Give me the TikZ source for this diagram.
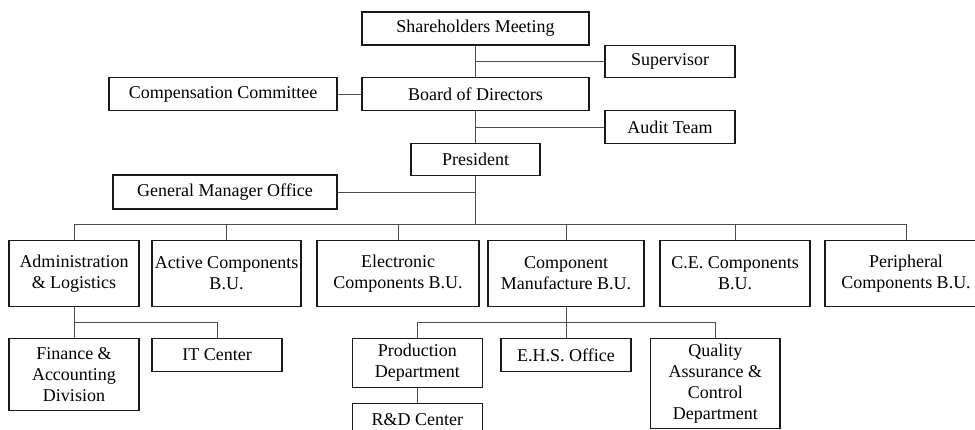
\documentclass[tikz,border=0pt]{standalone}
\usepackage{fontspec}
\setmainfont{Liberation Serif}
\begin{document}
\begin{tikzpicture}[x=1pt,y=-1pt,
  bx/.style={draw=black!90, line width=1.4pt, inner sep=0pt, align=center,
    font=\fontsize{18}{21}\selectfont, fill=white},
  ln/.style={draw=black!70, line width=0.9pt}]
\path[use as bounding box, fill=white] (0,0) rectangle (975,430);
\clip (0,0) rectangle (975,430);
% top part
\node[bx, minimum width=227, minimum height=33] (sm) at (475.5,28.5) {Shareholders Meeting};
\node[bx, minimum width=130, minimum height=32] (sup) at (670,61.5) {Supervisor};
\node[bx, minimum width=228, minimum height=32.6] (cc) at (223,94) {Compensation Committee};
\node[bx, minimum width=227, minimum height=32.6] (bod) at (475.5,94) {Board of Directors};
\node[bx, minimum width=130, minimum height=32.6] (aud) at (670,127) {Audit Team};
\node[bx, minimum width=129.3, minimum height=32.4] (pres) at (475.5,159.5) {President};
\node[bx, minimum width=224, minimum height=34] (gmo) at (225,192) {General Manager Office};
% second row
\node[bx, minimum width=130, minimum height=65.6] (adm) at (74,273.5) {Administration\\\& Logistics};
\node[bx, minimum width=149, minimum height=65.6] (act) at (226.5,273.5) {Active Components\\B.U.};
\node[bx, minimum width=162, minimum height=65.6] (ele) at (398,273.5) {Electronic\\Components B.U.};
\node[bx, minimum width=156, minimum height=65.6] (cm) at (566,273.5) {Component\\Manufacture B.U.};
\node[bx, minimum width=150, minimum height=65.6] (ce) at (735,273.5) {C.E. Components\\B.U.};
\node[bx, minimum width=162, minimum height=65.6] (per) at (906,273.5) {Peripheral\\Components B.U.};
% third row
\node[bx, minimum width=130, minimum height=72] (fin) at (74,374.3) {Finance \&\\Accounting\\Division};
\node[bx, minimum width=130, minimum height=33] (it) at (217,354.8) {IT Center};
\node[bx, minimum width=130, minimum height=49] (prod) at (417.3,362.8) {Production\\Department};
\node[bx, minimum width=130, minimum height=33] (rd) at (417.3,419.8) {R\&D Center};
\node[bx, minimum width=130, minimum height=33] (ehs) at (566,354.8) {E.H.S. Office};
\node[bx, minimum width=129.3, minimum height=90.4] (qa) at (715.3,383.5) {Quality\\Assurance \&\\Control\\Department};
% connectors
\coordinate (bus) at (475.5,224.3);
\coordinate (sub) at (74,322.3);
\draw[ln] (sm.south) -- (bod.north);
\draw[ln] (bod.south) -- (pres.north);
\draw[ln] (pres.south) -- (pres.south |- bus);
\draw[ln] (sm.south |- sup.west) -- (sup.west);
\draw[ln] (cc.east) -- (bod.west);
\draw[ln] (bod.south |- aud.west) -- (aud.west);
\draw[ln] (gmo.east) -- (gmo.east -| pres.south);
\draw[ln] (adm.north |- bus) -- (per.north |- bus);
\foreach \n in {adm,act,ele,cm,ce,per} \draw[ln] (\n.north |- bus) -- (\n.north);
\draw[ln] (adm.south) -- (fin.north);
\draw[ln] (adm.south |- sub) -- (it.north |- sub) -- (it.north);
\draw[ln] (cm.south) -- (ehs.north);
\draw[ln] (prod.north) -- (prod.north |- sub) -- (qa.north |- sub) -- (qa.north);
\draw[ln] (prod.south) -- (rd.north);
\end{tikzpicture}
\end{document}
